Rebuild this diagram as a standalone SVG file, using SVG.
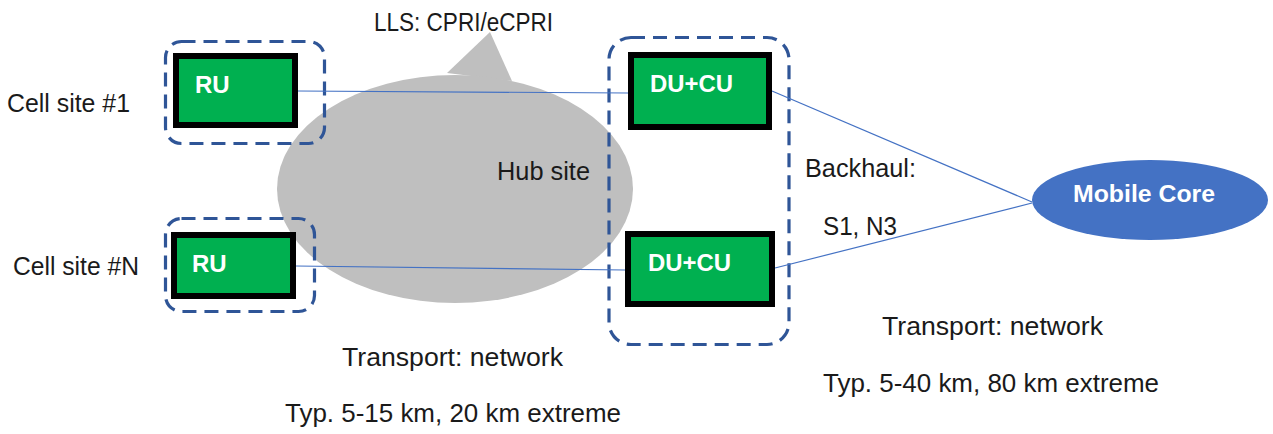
<svg xmlns="http://www.w3.org/2000/svg" width="1273" height="434" viewBox="0 0 1273 434">
<style>
.t{font-family:"Liberation Sans",Arial,sans-serif;font-size:25px;fill:#1a1a1a}
.w{font-family:"Liberation Sans",Arial,sans-serif;font-size:24px;font-weight:bold;fill:#ffffff}
.box{fill:#00b050;stroke:#000000;stroke-width:6}
.dash{fill:none;stroke:#2f5597;stroke-width:3.2;stroke-dasharray:14 8}
.ln{stroke:#4472c4;stroke-width:1.2;fill:none}
</style>
<rect width="1273" height="434" fill="#ffffff"/>
<g id="hub-site">
<path d="M447,73 L490,32 L512,81 Z" fill="#bfbfbf"/>
<ellipse cx="455" cy="189" rx="178" ry="114" fill="#bfbfbf"/>
<text class="t" x="497" y="180" textLength="93" lengthAdjust="spacingAndGlyphs">Hub site</text>
</g>
<g id="cell-site-1">
<rect class="dash" x="165.5" y="41.5" width="159" height="102" rx="16"/>
<text class="t" x="7" y="112" textLength="123" lengthAdjust="spacingAndGlyphs">Cell site #1</text>
</g>
<g id="cell-site-n">
<rect class="dash" x="165.5" y="218.5" width="149" height="93" rx="16"/>
<text class="t" x="13" y="275" textLength="126" lengthAdjust="spacingAndGlyphs">Cell site #N</text>
</g>
<g id="du-group">
<rect class="dash" x="609" y="37.5" width="180" height="307" rx="22"/>
</g>
<g id="connectors">
<line class="ln" x1="298" y1="91" x2="628" y2="93"/>
<line class="ln" x1="296" y1="266" x2="625" y2="270"/>
<line class="ln" x1="772" y1="91" x2="1032" y2="202"/>
<line class="ln" x1="775" y1="268" x2="1032" y2="203"/>
</g>
<g id="ru-1">
<rect class="box" x="176" y="56" width="119" height="69"/>
<text class="w" x="195" y="93">RU</text>
</g>
<g id="ru-n">
<rect class="box" x="174" y="235" width="119" height="61"/>
<text class="w" x="192" y="272">RU</text>
</g>
<g id="du-cu-1">
<rect class="box" x="631" y="55" width="138" height="72"/>
<text class="w" x="650" y="92" textLength="83" lengthAdjust="spacingAndGlyphs">DU+CU</text>
</g>
<g id="du-cu-2">
<rect class="box" x="628" y="234" width="144" height="70"/>
<text class="w" x="648" y="271" textLength="83" lengthAdjust="spacingAndGlyphs">DU+CU</text>
</g>
<g id="mobile-core">
<ellipse cx="1150" cy="200" rx="118" ry="40" fill="#4472c4"/>
<text class="w" x="1073" y="202" textLength="142" lengthAdjust="spacingAndGlyphs">Mobile Core</text>
</g>
<g id="labels">
<text class="t" x="374" y="31" textLength="179" lengthAdjust="spacingAndGlyphs">LLS: CPRI/eCPRI</text>
<text class="t" x="805" y="177" textLength="111" lengthAdjust="spacingAndGlyphs">Backhaul:</text>
<text class="t" x="823" y="235" textLength="74" lengthAdjust="spacingAndGlyphs">S1, N3</text>
<text class="t" x="342" y="366" textLength="221" lengthAdjust="spacingAndGlyphs">Transport: network</text>
<text class="t" x="285" y="422" textLength="336" lengthAdjust="spacingAndGlyphs">Typ. 5-15 km, 20 km extreme</text>
<text class="t" x="882" y="335" textLength="221" lengthAdjust="spacingAndGlyphs">Transport: network</text>
<text class="t" x="823" y="392" textLength="336" lengthAdjust="spacingAndGlyphs">Typ. 5-40 km, 80 km extreme</text>
</g>
</svg>
